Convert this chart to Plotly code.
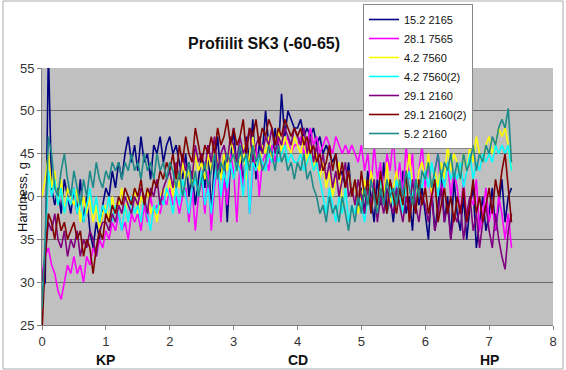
import plotly.graph_objects as go

# x grid step (independent variable sampling)
STEP = 0.05

series_names = ["15.2 2165", "28.1 7565", "4.2 7560", "4.2 7560(2)",
                "29.1 2160", "29.1 2160(2)", "5.2 2160"]

s_15_2_2165 = [
    29, 30, 57, 41, 39, 41, 38, 42, 40, 38,
    41, 38, 42, 37, 40, 36, 34, 37, 35, 39,
    41, 40, 43, 41, 44, 42, 45, 47, 44, 46,
    43, 47, 44, 45, 42, 46, 45, 47, 44, 46,
    47, 45, 46, 44, 42, 45, 40, 43, 39, 42,
    45, 41, 46, 38, 44, 47, 42, 45, 37, 44,
    48, 43, 46, 41, 47, 44, 49, 42, 46, 45,
    50, 46, 44, 48, 45, 52, 47, 50, 49, 48,
    48, 49, 47, 48, 47, 48, 46, 47, 45, 46,
    45, 44, 45, 42, 43, 41, 44, 40, 42, 39,
    41, 38, 43, 40, 37, 42, 39, 44, 38, 40,
    37, 41, 39, 43, 38, 40, 36, 42, 39, 41,
    38, 35, 41, 36, 39, 43, 37, 40, 35, 42,
    38, 36, 40, 35, 39, 41, 34, 37, 40, 36,
    38, 41, 36, 39, 42, 37, 40, 41,
]
s_28_1_7565 = [
    31, 33, 34, 32, 31, 29, 28, 30, 32, 31,
    33, 31, 32, 30, 33, 32, 34, 33, 35, 34,
    36, 35, 37, 36, 38, 36, 37, 35, 38, 37,
    38, 36, 39, 37, 40, 38, 39, 38, 40, 39,
    41, 39, 40, 38, 40, 41, 37, 41, 36, 40,
    42, 38, 43, 36, 41, 44, 37, 42, 39, 45,
    43, 37, 44, 41, 45, 38, 43, 46, 40, 44,
    45, 43, 46, 44, 47, 45, 46, 47, 45, 46,
    46, 47, 45, 46, 48, 46, 47, 45, 46, 47,
    46, 45, 47, 46, 45, 46, 45, 46, 45, 44,
    46, 43, 45, 41, 46, 42, 44, 40, 45, 43,
    47, 41, 44, 40, 46, 42, 45, 39, 43, 46,
    41, 44, 39, 43, 45, 40, 42, 44, 40, 43,
    41, 38, 42, 37, 40, 39, 42, 36, 38, 41,
    37, 39, 36, 40, 38, 35, 38, 34,
]
s_4_2_7560 = [
    40, 42, 45, 41, 43, 39, 42, 38, 41, 40,
    39, 41, 37, 40, 38, 40, 37, 39, 36, 38,
    39, 37, 40, 38, 39, 41, 38, 40, 39, 41,
    38, 40, 39, 41, 38, 39, 37, 40, 41, 40,
    42, 40, 43, 41, 44, 42, 43, 41, 45, 43,
    44, 42, 45, 43, 46, 44, 42, 45, 43, 47,
    45, 43, 44, 46, 42, 45, 47, 44, 43, 46,
    45, 47, 44, 46, 48, 45, 47, 46, 45, 47,
    46, 45, 47, 44, 46, 43, 45, 42, 44, 41,
    43, 40, 42, 44, 39, 41, 43, 40, 42, 38,
    40, 42, 39, 43, 41, 38, 42, 40, 44, 39,
    41, 43, 40, 38, 42, 45, 41, 39, 43, 44,
    42, 45, 40, 43, 41, 44, 42, 46, 43, 45,
    44, 42, 45, 43, 46, 44, 47, 45, 44, 46,
    47, 45, 46, 48, 47, 48, 46, 43,
]
s_4_2_7560_2 = [
    27, 34, 43, 40, 42, 39, 41, 38, 40, 39,
    41, 38, 40, 37, 39, 41, 38, 40, 37, 39,
    38, 40, 37, 39, 38, 36, 39, 37, 40, 38,
    39, 37, 40, 38, 36, 39, 38, 40, 39, 41,
    40, 38, 41, 39, 42, 40, 38, 41, 42, 40,
    43, 39, 41, 38, 42, 44, 40, 43, 41, 44,
    42, 44, 43, 40, 45, 38, 44, 43, 45, 44,
    43, 45, 44, 46, 44, 45, 46, 44, 45, 44,
    44, 45, 43, 44, 45, 43, 44, 42, 40, 38,
    41, 39, 37, 40, 38, 41, 37, 39, 38, 40,
    39, 37, 40, 38, 41, 39, 42, 40, 38, 41,
    39, 42, 40, 38, 41, 43, 40, 39, 42, 41,
    43, 41, 44, 42, 40, 43, 41, 44, 42, 43,
    42, 44, 41, 43, 45, 42, 44, 43, 45, 44,
    45, 44, 46, 45, 46, 45, 46, 43,
]
s_29_1_2160 = [
    30, 33, 37, 36, 38, 35, 34, 36, 33, 35,
    34, 36, 33, 35, 34, 36, 35, 33, 36, 37,
    37, 36, 38, 37, 39, 38, 40, 39, 38, 40,
    39, 41, 40, 38, 41, 40, 42, 39, 41, 42,
    43, 41, 44, 42, 45, 43, 44, 42, 46, 44,
    45, 43, 46, 44, 47, 43, 45, 46, 44, 47,
    46, 44, 47, 45, 46, 48, 44, 46, 47, 45,
    47, 46, 48, 45, 47, 46, 48, 47, 46, 48,
    47, 46, 48, 45, 47, 44, 46, 43, 45, 42,
    44, 41, 43, 40, 42, 44, 40, 41, 39, 42,
    40, 38, 41, 39, 42, 37, 40, 38, 41, 39,
    38, 41, 39, 37, 40, 38, 42, 39, 37, 40,
    39, 37, 40, 36, 38, 41, 37, 39, 35, 38,
    37, 39, 35, 38, 40, 36, 38, 34, 37, 39,
    36, 34, 38, 35, 33, 31.5, 36, 38,
]
s_29_1_2160_2 = [
    24, 33, 38, 37, 35, 38, 36, 37, 35, 36,
    37, 35, 36, 33, 35, 34, 31, 34, 36, 35,
    38, 37, 39, 38, 40, 39, 41, 40, 39, 41,
    40, 42, 39, 41, 40, 42, 41, 43, 42, 44,
    43, 45, 42, 46, 44, 47, 45, 44, 48, 46,
    44, 46, 45, 47, 45, 48, 46, 47, 49, 46,
    48, 46, 47, 49, 45, 48, 47, 49, 46, 48,
    47, 49, 48, 46, 48, 47, 49, 48, 47, 48,
    47, 48, 46, 47, 45, 46, 44, 45, 43, 44,
    46, 43, 45, 42, 44, 41, 43, 40, 42, 39,
    43, 40, 42, 38, 41, 39, 43, 40, 38, 42,
    40, 38, 41, 39, 43, 37, 40, 38, 42, 39,
    41, 38, 40, 42, 37, 39, 41, 38, 40, 37,
    40, 38, 41, 37, 39, 42, 38, 40, 37, 39,
    41, 38, 42, 40, 43, 45, 41, 37,
]
s_5_2_2160 = [
    27, 35, 47, 45, 41, 40, 43, 45, 42, 40,
    43, 41, 39, 42, 40, 43, 41, 44, 42, 41,
    43, 42, 44, 43, 44, 42, 44, 43, 45, 43,
    44, 42, 45, 43, 44, 42, 45, 43, 44, 42,
    44, 43, 41, 43, 40, 42, 44, 41, 43, 40,
    42, 44, 41, 43, 45, 42, 44, 43, 45, 44,
    45, 43, 46, 44, 45, 43, 46, 44, 45, 43,
    44, 46, 45, 43, 46, 44, 45, 43, 44, 42,
    44, 43, 45, 42, 43, 41, 40, 38, 39, 37,
    40, 38, 39, 37, 40, 38, 36, 39, 37, 40,
    38, 41, 39, 42, 40, 38, 41, 39, 42, 40,
    41, 39, 42, 40, 43, 41, 39, 42, 40, 43,
    42, 44, 41, 43, 45, 42, 44, 43, 45, 42,
    44, 42, 45, 43, 44, 46, 43, 45, 44, 46,
    45, 47, 46, 48, 49, 48, 50.3, 44,
]

series_values = [s_15_2_2165, s_28_1_7565, s_4_2_7560, s_4_2_7560_2,
                 s_29_1_2160, s_29_1_2160_2, s_5_2_2160]
colors = ["#000080", "#FF00FF", "#FFFF00", "#00FFFF",
          "#800080", "#800000", "#1F8A8A"]

x_ticks = [0, 1, 2, 3, 4, 5, 6, 7, 8]
y_ticks = [25, 30, 35, 40, 45, 50, 55]
region_labels = ["KP", "CD", "HP"]
region_pos = [1, 4, 7]

FONT = "Liberation Sans, Arial, sans-serif"

fig = go.Figure()
for name, vals, col in zip(series_names, series_values, colors):
    xs = [round(i * STEP, 2) for i in range(len(vals))]
    fig.add_trace(go.Scatter(x=xs, y=vals, mode="lines", name=name,
                             line=dict(color=col, width=1.6)))

fig.update_layout(
    width=566, height=370,
    margin=dict(l=42, r=13, t=68, b=45, autoexpand=False),
    paper_bgcolor="white", plot_bgcolor="#C0C0C0",
    font=dict(family=FONT, size=13, color="#222"),
    title=dict(text="<b>Profiilit SK3 (-60-65)</b>", x=264/566, xanchor="center",
               xref="container", y=1-43/370, yref="container", yanchor="middle",
               font=dict(size=16, color="#111", family=FONT)),
    xaxis=dict(range=[0, 8], tickvals=x_ticks, showgrid=False, zeroline=False,
               showline=True, linecolor="#808080", linewidth=1,
               ticks="outside", ticklen=4, tickcolor="#808080", automargin=False,
               tickfont=dict(size=13, color="#333")),
    yaxis=dict(range=[25, 55], tickvals=y_ticks, showgrid=True, gridcolor="#6A6A6A",
               gridwidth=1, zeroline=False, automargin=False,
               showline=True, linecolor="#808080", linewidth=1,
               ticks="outside", ticklen=4, tickcolor="#808080",
               tickfont=dict(size=13, color="#333")),
    legend=dict(x=(363-42)/511, y=(325-4)/257, xanchor="left", yanchor="top",
                bgcolor="white", bordercolor="#888", borderwidth=1,
                font=dict(size=11, color="#111", family=FONT),
                tracegroupgap=0, itemwidth=30),
    showlegend=True,
)

fig.add_annotation(text="Hardness, g", xref="paper", yref="paper",
                   x=(22-42)/511, y=(325-197)/257, textangle=-90,
                   xanchor="center", yanchor="middle",
                   showarrow=False, font=dict(size=13, color="#111", family=FONT))

for lab, pos in zip(region_labels, region_pos):
    fig.add_annotation(text=f"<b>{lab}</b>", x=pos, xref="x",
                       y=(325-360)/257, yref="paper", showarrow=False,
                       xanchor="center", yanchor="middle",
                       font=dict(size=14, color="#111", family=FONT))

# chart outer border
fig.add_shape(type="rect", xref="paper", yref="paper",
              x0=(3-42)/511, x1=(563-42)/511, y0=(325-369)/257, y1=(325-1)/257,
              line=dict(color="#AAAAAA", width=1), layer="below")

fig.write_html("out.html", config={"displayModeBar": False},
               post_script="document.body.style.margin='0';document.body.style.overflow='hidden';")
